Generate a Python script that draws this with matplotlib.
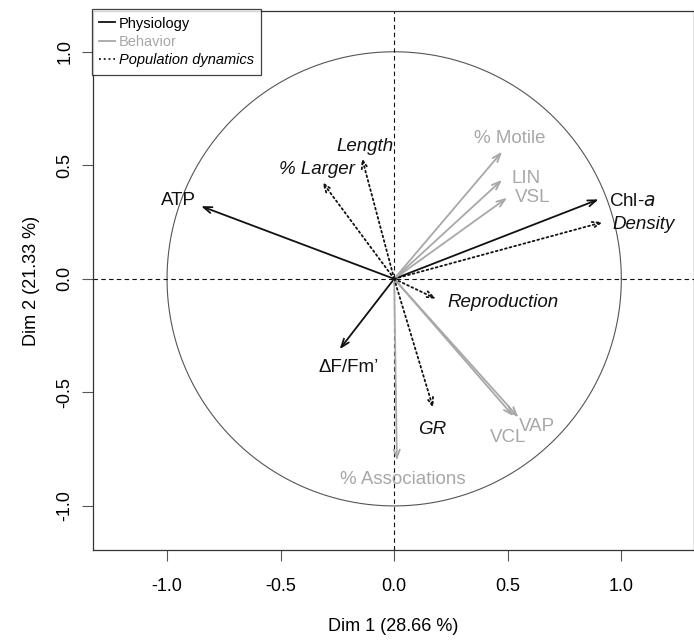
import numpy as np
import matplotlib
matplotlib.use("Agg")
import matplotlib.pyplot as plt
from matplotlib.lines import Line2D

plt.rcParams['font.family'] = ['Liberation Sans', 'DejaVu Sans']

# Variable coordinates on Dim 1 / Dim 2
phys_names = ["ATP", "Chl-$a$", "ΔF/Fm’"]
phys_x = [-0.85, 0.90, -0.24]
phys_y = [0.32, 0.35, -0.31]
phys_lx = [-0.95, 1.05, -0.20]
phys_ly = [0.345, 0.34, -0.39]

behav_names = ["% Motile", "LIN", "VSL", "VAP", "VCL", "% Associations"]
behav_x = [0.475, 0.475, 0.497, 0.547, 0.525, 0.012]
behav_y = [0.56, 0.436, 0.357, -0.61, -0.605, -0.80]
behav_lx = [0.51, 0.58, 0.61, 0.63, 0.50, 0.04]
behav_ly = [0.62, 0.44, 0.36, -0.65, -0.70, -0.885]

pop_names = ["Length", "% Larger", "Density", "Reproduction", "GR"]
pop_x = [-0.142, -0.317, 0.92, 0.185, 0.172]
pop_y = [0.533, 0.427, 0.25, -0.088, -0.57]
pop_lx = [-0.13, -0.34, 1.10, 0.48, 0.165]
pop_ly = [0.585, 0.48, 0.24, -0.106, -0.665]

black = "#111111"
grey = "#a8a8a8"

fig = plt.figure(figsize=(6.94, 6.41), dpi=100)
ax = fig.add_axes([0.134, 0.142, 0.866, 0.841])

# unit circle and axis lines
t = np.linspace(0, 2 * np.pi, 400)
ax.plot(np.cos(t), np.sin(t), color="#555555", lw=0.8)
ax.axhline(0, color=black, ls=(0, (4, 3)), lw=0.8)
ax.axvline(0, color=black, ls=(0, (4, 3)), lw=0.8)


def draw_group(xs, ys, lxs, lys, names, color, ls, style):
    for x, y, lx, ly, name in zip(xs, ys, lxs, lys, names):
        ax.annotate("", xy=(x, y), xytext=(0, 0),
                    arrowprops=dict(arrowstyle="->,head_length=0.6,head_width=0.22",
                                    color=color, lw=1.3, linestyle=ls,
                                    shrinkA=0, shrinkB=0))
        ax.text(lx, ly, name, color=color, fontsize=13.5, style=style,
                ha="center", va="center")


draw_group(phys_x, phys_y, phys_lx, phys_ly, phys_names, black, "-", "normal")
draw_group(behav_x, behav_y, behav_lx, behav_ly, behav_names, grey, "-", "normal")
draw_group(pop_x, pop_y, pop_lx, pop_ly, pop_names, black, ":", "italic")

ax.set_xlim(-1.326, 1.32)
ax.set_ylim(-1.194, 1.18)
ax.set_xticks([-1.0, -0.5, 0.0, 0.5, 1.0])
ax.set_yticks([-1.0, -0.5, 0.0, 0.5, 1.0])
ax.set_xticklabels(["-1.0", "-0.5", "0.0", "0.5", "1.0"])
ax.set_yticklabels(["-1.0", "-0.5", "0.0", "0.5", "1.0"], rotation=90, va="center")
ax.tick_params(axis="x", length=8, width=0.8, color="#555555", labelsize=13, pad=12)
ax.tick_params(axis="y", length=8, width=0.8, color="#555555", labelsize=13, pad=6)
for s in ax.spines.values():
    s.set_linewidth(0.9)
    s.set_color("#333333")
ax.set_xlabel("Dim 1 (28.66 %)", fontsize=13, labelpad=17)
ax.set_ylabel("Dim 2 (21.33 %)", fontsize=13, labelpad=12)

handles = [Line2D([], [], color=black, lw=1.3),
           Line2D([], [], color=grey, lw=1.3),
           Line2D([], [], color=black, lw=1.3, ls=":")]
leg = ax.legend(handles, ["Physiology", "Behavior", "Population dynamics"],
                loc="upper left", bbox_to_anchor=(-0.002, 1.003), fontsize=10.5,
                frameon=True, fancybox=False, handlelength=1.1, handletextpad=0.25,
                borderpad=0.5, labelspacing=0.3, borderaxespad=0)
leg.get_frame().set_edgecolor(black)
leg.get_frame().set_linewidth(0.9)
texts = leg.get_texts()
texts[1].set_color(grey)
texts[2].set_style("italic")

fig.savefig("out.png", dpi=100)
